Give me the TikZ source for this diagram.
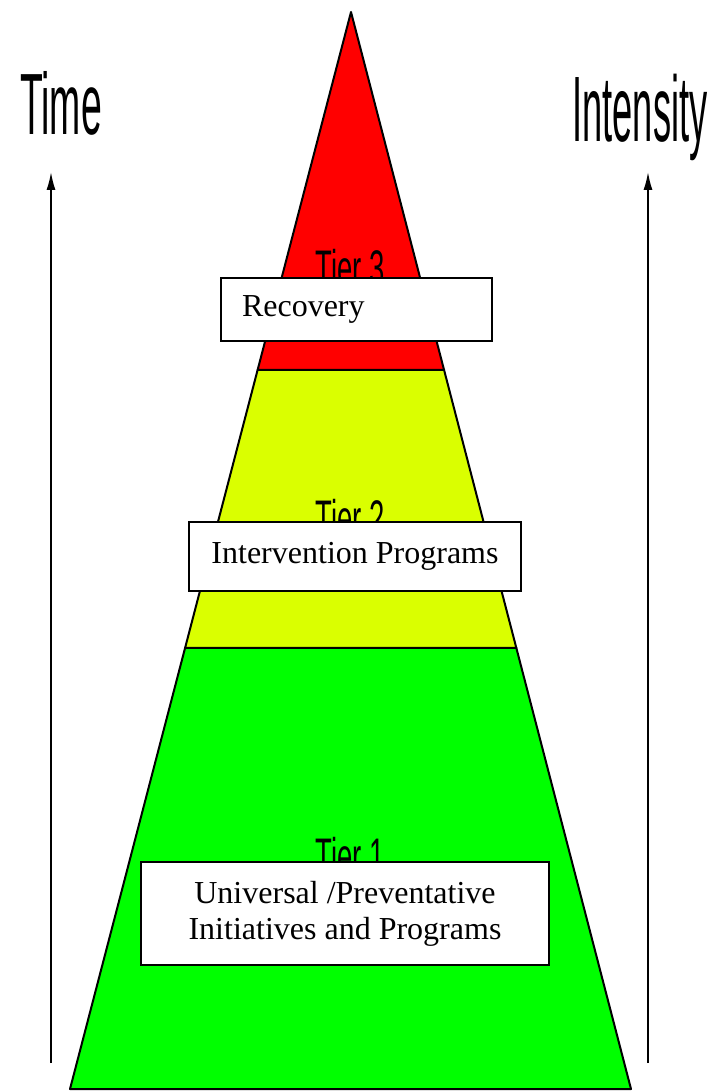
\documentclass[tikz,border=0pt]{standalone}
\usepackage{fontspec}
\setmainfont{Liberation Serif}
\newfontfamily\labelfont{Liberation Sans}
\usetikzlibrary{calc}
\usetikzlibrary{arrows,arrows.meta}
\definecolor{tierred}{RGB}{255,0,0}
\definecolor{tieryellow}{RGB}{218,255,0}
\definecolor{tiergreen}{RGB}{0,255,0}
\newcommand{\squeeze}[2]{\scalebox{#1}[1]{#2}}
\tikzset{
  tier/.style={draw=black,line width=2pt,line join=round},
  infobox/.style={draw=black,fill=white,line width=1.3pt,inner sep=0pt},
  tierlabel/.style={draw=none,fill=none,anchor=base,font=\labelfont\fontsize{50}{50}\selectfont}
}

\begin{document}
\begin{tikzpicture}[x=1pt,y=-1pt]
  \useasboundingbox (0,0) rectangle (716,1091);

  % Corners of the pyramid:
  \coordinate (apex) at (351,12);
  \coordinate (baseL) at (70,1089);
  \coordinate (baseR) at (631,1089);
  \coordinate (midL3) at ($(apex)!0.3324!(baseL)$);
  \coordinate (midR3) at ($(apex)!0.3324!(baseR)$);
  \coordinate (midL2) at ($(apex)!0.5905!(baseL)$);
  \coordinate (midR2) at ($(apex)!0.5905!(baseR)$);

  % Tiers
  \filldraw[tier,fill=tiergreen] (midL2) -- (midR2) -- (baseR) -- (baseL) -- cycle;
  \filldraw[tier,fill=tieryellow] (midL3) -- (midR3) -- (midR2) -- (midL2) -- cycle;
  \filldraw[tier,fill=tierred] (apex) -- (midR3) -- (midL3) -- cycle;

  % Tier names
  \node[tierlabel] (tier3) at (350,285) {\squeeze{0.55}{Tier 3}};
  \node[tierlabel] (tier2) at (350,535) {\squeeze{0.55}{Tier 2}};
  \node[tierlabel] (tier1) at (350,873) {\squeeze{0.55}{Tier 1}};

  % Boxes
  \node[infobox,minimum width=271pt,minimum height=63pt,text width=229pt,align=left,
        font=\fontsize{32}{36}\selectfont] (recovery) at (356.5,309.5) {Recovery};
  \node[infobox,minimum width=332pt,minimum height=69pt,align=center,
        font=\fontsize{32}{36}\selectfont] (intervention) at (355,556.5) {Intervention Programs};
  \node[infobox,minimum width=408pt,minimum height=103pt,align=center,
        font=\fontsize{32}{36}\selectfont] (universal) at (345,913.5) {Universal /Preventative\\Initiatives and Programs};

  % Axes
  \node[draw=none,fill=none,anchor=base,font=\labelfont\fontsize{87}{87}\selectfont] (time) at (61,135) {\squeeze{0.43}{Time}};
  \node[draw=none,fill=none,anchor=base,font=\labelfont\fontsize{93}{93}\selectfont] (intensity) at (640,142) {\squeeze{0.39}{Intensity}};
  \coordinate (timebot) at (51,1063);
  \coordinate (timetop) at (51,172);
  \coordinate (intbot) at (648,1063);
  \coordinate (inttop) at (648,172);
  \draw[-{Latex[length=18pt,width=9pt]},line width=1.6pt] (timebot) -- (timetop);
  \draw[-{Latex[length=18pt,width=9pt]},line width=1.6pt] (intbot) -- (inttop);

\end{tikzpicture}
\end{document}
